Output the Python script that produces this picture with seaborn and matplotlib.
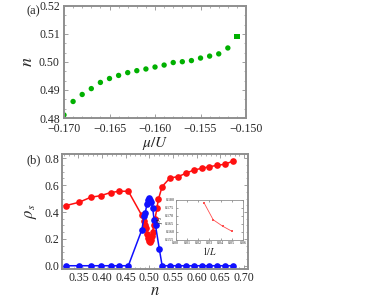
import numpy as np
import pandas as pd
import matplotlib
matplotlib.use("Agg")
import matplotlib.pyplot as plt
from matplotlib.ticker import MultipleLocator, AutoMinorLocator
import seaborn as sns

# panel (a): filling n vs mu/U
mu_u = [-0.170, -0.169, -0.168, -0.167, -0.166, -0.165, -0.164, -0.163, -0.162, -0.161,
        -0.160, -0.159, -0.158, -0.157, -0.156, -0.155, -0.154, -0.153, -0.152, -0.151]
n_fill = [0.4811, 0.4859, 0.4884, 0.4905, 0.4927, 0.4941, 0.4952, 0.4962, 0.4969, 0.4975,
          0.4982, 0.4989, 0.4998, 0.5001, 0.5005, 0.5014, 0.5021, 0.5029, 0.5050, 0.5091]
marker_kind = ["dot"] * 19 + ["square"]

# panel (b): superfluid density vs n
n_red = [0.3234, 0.3515, 0.376, 0.397, 0.418, 0.4365, 0.4555, 0.484, 0.488, 0.491,
         0.493, 0.495, 0.497, 0.499, 0.501, 0.503, 0.505, 0.507, 0.509, 0.512,
         0.516, 0.519, 0.527, 0.5435, 0.561, 0.577, 0.594, 0.611, 0.627, 0.643,
         0.659, 0.6757]
rho_red = [0.448, 0.473, 0.510, 0.522, 0.545, 0.555, 0.555, 0.375, 0.335, 0.300,
           0.280, 0.240, 0.205, 0.185, 0.180, 0.190, 0.220, 0.255, 0.300, 0.350,
           0.430, 0.495, 0.590, 0.654, 0.664, 0.689, 0.713, 0.726, 0.738, 0.748,
           0.756, 0.778]
n_blue = [0.3234, 0.3515, 0.376, 0.397, 0.418, 0.4365, 0.4555, 0.484, 0.489, 0.491,
          0.495, 0.498, 0.500, 0.502, 0.504, 0.507, 0.510, 0.513, 0.521, 0.527,
          0.5435, 0.561, 0.577, 0.594, 0.611, 0.627, 0.643, 0.659, 0.6757]
rho_blue = [0, 0, 0, 0, 0, 0, 0, 0.267, 0.370, 0.390,
            0.460, 0.490, 0.503, 0.490, 0.475, 0.430, 0.340, 0.300, 0.124, 0,
            0, 0, 0, 0, 0, 0, 0, 0, 0]

# inset: rho_s vs 1/L
inv_L = [0.025, 0.0333, 0.0417, 0.05]
rho_L = [0.1784, 0.1676, 0.1636, 0.1604]

sns.set_style("ticks")
plt.rcParams["font.family"] = ["Liberation Serif", "DejaVu Serif"]
plt.rcParams["mathtext.fontset"] = "stix"

GRAY = "#8f8f8f"


def style_axes(ax, lw=1.4, size=8.5, major_len=3, minor_len=1.6):
    for sp in ax.spines.values():
        sp.set_color(GRAY)
        sp.set_linewidth(lw)
    ax.tick_params(which="both", direction="in", top=True, right=True,
                   color=GRAY, labelsize=size, pad=2)
    ax.tick_params(which="major", length=major_len, width=0.6)
    ax.tick_params(which="minor", length=minor_len, width=0.5)


fig = plt.figure(figsize=(3.89, 2.98), dpi=100)

# ---- panel (a)
ax1 = fig.add_axes([0.1645, 0.604, 0.468, 0.376])
df_a = pd.DataFrame({"mu": mu_u, "n": n_fill, "kind": marker_kind})
sns.scatterplot(data=df_a, x="mu", y="n", style="kind",
                markers={"dot": "o", "square": "s"}, color="#00b000",
                s=15, linewidth=0, legend=False, ax=ax1)
ax1.set_xlim(-0.170, -0.150)
ax1.set_ylim(0.48, 0.52)
ax1.xaxis.set_major_locator(MultipleLocator(0.005))
ax1.xaxis.set_minor_locator(AutoMinorLocator(5))
ax1.yaxis.set_major_locator(MultipleLocator(0.01))
ax1.yaxis.set_minor_locator(AutoMinorLocator(3))
ax1.xaxis.set_major_formatter(plt.FuncFormatter(lambda v, p: f"\u2212{abs(v):.3f}"))
ax1.yaxis.set_major_formatter(plt.FuncFormatter(lambda v, p: f"{v:.2f}"))
ax1.set_xlabel(r"$\mu/U$", fontsize=11, labelpad=0)
ax1.set_ylabel(r"$n$", fontsize=13, labelpad=2)
style_axes(ax1)
ax1.tick_params(axis="y", pad=3)
ax1.tick_params(axis="x", pad=3.5)
fig.text(0.068, 0.962, "(a)", fontsize=9, ha="left", va="center")

# ---- panel (b)
ax2 = fig.add_axes([0.159, 0.097, 0.478, 0.386])
df_r = pd.DataFrame({"n": n_red, "rho": rho_red})
df_b = pd.DataFrame({"n": n_blue, "rho": rho_blue})
sns.lineplot(data=df_r, x="n", y="rho", color="#ff1010", marker="o",
             markersize=4.8, markeredgewidth=0, linewidth=1.1,
             estimator=None, ax=ax2)
sns.lineplot(data=df_b, x="n", y="rho", color="#1010ff", marker="o",
             markersize=4.8, markeredgewidth=0, linewidth=1.1,
             estimator=None, ax=ax2)
ax2.set_xlim(0.315, 0.708)
ax2.set_ylim(-0.025, 0.832)
ax2.xaxis.set_major_locator(MultipleLocator(0.05))
ax2.xaxis.set_minor_locator(AutoMinorLocator(5))
ax2.yaxis.set_major_locator(MultipleLocator(0.2))
ax2.yaxis.set_minor_locator(AutoMinorLocator(4))
ax2.xaxis.set_major_formatter(plt.FuncFormatter(lambda v, p: f"{v:.2f}"))
ax2.yaxis.set_major_formatter(plt.FuncFormatter(lambda v, p: f"{v:.1f}"))
ax2.set_xlabel(r"$n$", fontsize=12, labelpad=-0.5)
ax2.set_ylabel(r"$\rho_s$", fontsize=12, labelpad=4)
style_axes(ax2)
fig.text(0.068, 0.463, "(b)", fontsize=9, ha="left", va="center")

# ---- inset
ax3 = fig.add_axes([0.452, 0.195, 0.173, 0.134])
df_i = pd.DataFrame({"invL": inv_L, "rho": rho_L})
sns.lineplot(data=df_i, x="invL", y="rho", color="#ff5050", marker="s",
             markersize=2, markeredgewidth=0, linewidth=0.6,
             estimator=None, ax=ax3)
ax3.set_xlim(0.0, 0.06)
ax3.set_ylim(0.155, 0.180)
ax3.xaxis.set_major_locator(MultipleLocator(0.01))
ax3.yaxis.set_major_locator(MultipleLocator(0.005))
ax3.xaxis.set_major_formatter(plt.FuncFormatter(lambda v, p: f"{v:.2f}"))
ax3.yaxis.set_major_formatter(plt.FuncFormatter(lambda v, p: f"{v:.3f}"))
ax3.set_xlabel(r"$1/L$", fontsize=7, labelpad=0)
ax3.set_ylabel(r"$\rho_s$", fontsize=6, labelpad=0)
style_axes(ax3, lw=0.6, size=3, major_len=1.5, minor_len=0.8)
ax3.tick_params(pad=1)

fig.savefig("out.png", dpi=100)
